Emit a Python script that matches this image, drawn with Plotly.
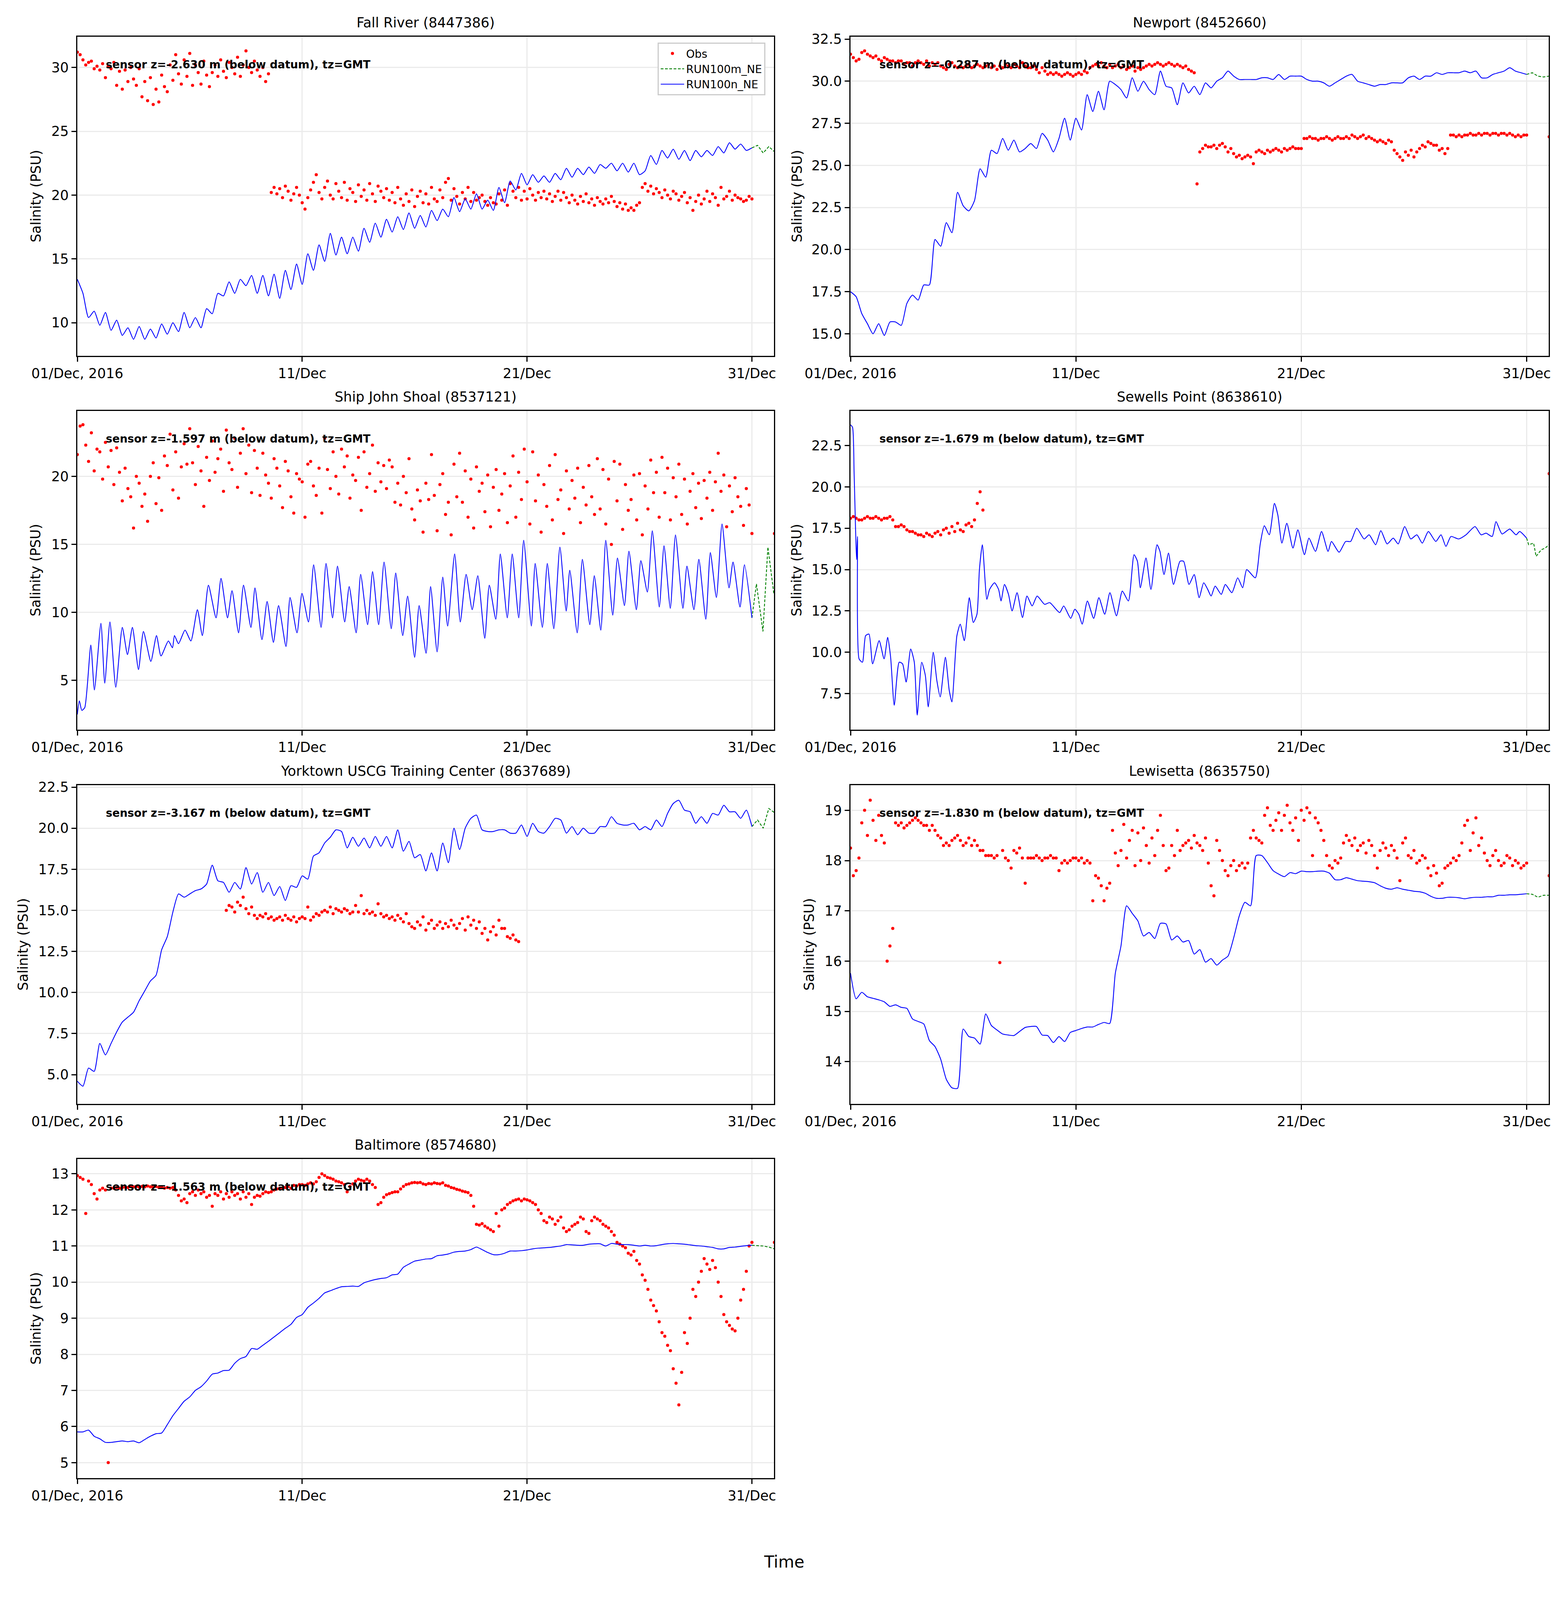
import pandas as pd
import plotly.graph_objects as go
from plotly.subplots import make_subplots

N = None
T0 = pd.Timestamp("2016-12-01")

station_names = ["Fall River (8447386)", "Newport (8452660)", "Ship John Shoal (8537121)",
                 "Sewells Point (8638610)", "Yorktown USCG Training Center (8637689)",
                 "Lewisetta (8635750)", "Baltimore (8574680)"]
sensor_depths = ["-2.630", "-0.287", "-1.597", "-1.679", "-3.167", "-1.830", "-1.563"]
tick_dates = ["2016-12-01", "2016-12-11", "2016-12-21", "2016-12-31"]
tick_labels = ["01/Dec, 2016", "11/Dec", "21/Dec", "31/Dec"]

# ---- observations, every 3 h from 01/Dec 00:00 (None = no data) ----
fr_obs = [
    31.2, 31.0, 30.6, 30.2, 30.4, 30.5, 29.9, 30.1,
    29.8, 30.3, 29.2, 30.1, 29.9, 30.4, 28.6, 29.7,
    28.3, 29.8, 28.9, 30.0, 29.1, 28.6, 29.9, 27.7,
    28.9, 27.4, 29.2, 27.1, 28.3, 27.3, 29.4, 28.5,
    28.1, 30.2, 29.0, 31.0, 29.5, 28.7, 30.6, 29.3,
    31.1, 28.6, 30.2, 29.6, 28.7, 30.5, 29.4, 28.5,
    29.6, 30.2, 29.3, 30.6, 29.7, 29.2, 30.4, 30.0,
    29.5, 30.8, 29.3, 30.2, 31.3, 30.0, 29.6, 30.5,
    29.8, 29.3, 30.0, 28.9, 29.5, 20.2, 20.6, 20.1,
    20.5, 19.8, 20.7, 20.3, 19.6, 20.1, 20.6, 20.0,
    19.4, 18.9, 19.8, 20.4, 21.0, 21.6, 20.2, 19.7,
    20.6, 21.1, 20.0, 19.7, 20.9, 20.3, 19.8, 21.0,
    19.6, 20.5, 20.2, 19.5, 20.8, 19.9, 20.4, 19.6,
    20.9, 20.1, 19.5, 20.7, 20.3, 19.8, 20.5, 19.6,
    20.2, 19.4, 20.6, 19.7, 19.2, 20.1, 19.5, 20.4,
    19.1, 19.9, 20.3, 19.4, 20.1, 19.3, 20.6, 19.7,
    19.5, 20.4, 19.8, 21.0, 21.3, 19.6, 20.5, 19.9,
    19.3, 20.2, 19.7, 20.6, 19.5, 20.2, 19.6, 19.8,
    20.0, 19.5, 19.2, 19.8, 19.4, 19.3, 20.1, 19.6,
    20.4, 19.2, 20.9, 20.3, 19.8, 20.6, 19.6, 20.3,
    19.7, 20.5, 20.0, 19.6, 20.2, 19.8, 20.3, 19.7,
    20.1, 19.5, 19.9, 20.3, 19.6, 20.2, 19.8, 19.4,
    20.0, 19.6, 19.3, 19.9, 19.5, 20.1, 19.4, 19.7,
    19.2, 19.8, 19.5, 19.3, 19.7, 19.4, 19.9, 19.5,
    19.1, 19.4, 18.9, 19.3, 18.8, 19.0, 18.8, 19.2,
    19.4, 20.6, 20.9, 20.3, 20.7, 20.1, 20.5, 20.2,
    19.8, 20.4, 20.0, 19.7, 20.3, 20.1, 19.6, 19.9,
    20.2, 19.4, 19.8, 18.8, 19.5, 20.0, 19.3, 19.7,
    20.3, 19.5, 20.1, 19.8, 19.2, 20.6, 19.7, 19.9,
    20.3, 19.6, 20.0, 19.8, 19.7, 19.5, 19.6, 19.9,
    19.7,
]
np_obs = [
    31.6, 31.4, 31.2, 31.3, 31.7, 31.8, 31.6, 31.5,
    31.4, 31.5, 31.3, 31.2, 31.4, 31.3, 31.2, 31.2,
    31.1, 31.2, 31.2, 31.0, 31.1, 31.1, 30.9, 31.1,
    31.2, 31.1, 31.0, 31.2, 30.9, 31.1, 31.0, 31.1,
    30.9, 30.8, 30.7, 31.0, 31.1, 30.9, 30.8, 30.9,
    30.8, 30.9, 31.0, 30.8, 30.9, 31.0, 30.9, 30.8,
    30.9, 31.0, 30.8, 30.9, 30.7, 30.9, 30.8, 31.0,
    30.9, 30.8, 31.0, 30.9, 30.8, 31.1, 30.9, 30.8,
    30.8, 30.9, 30.7, 30.5, 30.8, 30.6, 30.4, 30.5,
    30.4, 30.5, 30.4, 30.3, 30.4, 30.5, 30.4, 30.3,
    30.4, 30.5, 30.4, 30.6, 30.5, 30.8, 30.9, 31.0,
    30.9, 31.1, 30.9, 30.8, 31.0, 30.8, 30.9, 31.0,
    30.8, 30.9, 30.7, 30.8, 30.9, 30.6, 30.8, 30.7,
    30.8, 30.9, 31.0, 30.9, 31.0, 31.1, 31.0, 30.9,
    31.0, 31.1, 31.0, 30.9, 31.0, 30.9, 30.8, 30.9,
    30.7, 30.6, 30.5, 23.9, 25.8, 26.0, 26.2, 26.1,
    26.1, 26.2, 26.0, 26.2, 26.3, 26.1, 25.8, 26.0,
    25.7, 25.5, 25.6, 25.4, 25.5, 25.6, 25.5, 25.1,
    25.8, 25.9, 25.8, 25.7, 25.9, 25.8, 25.9, 26.0,
    25.9, 25.8, 26.0, 25.9, 26.0, 26.1, 26.0, 26.0,
    26.0, 26.6, 26.6, 26.7, 26.6, 26.6, 26.5, 26.6,
    26.6, 26.7, 26.6, 26.5, 26.6, 26.7, 26.6, 26.6,
    26.7, 26.6, 26.8, 26.7, 26.6, 26.7, 26.8, 26.6,
    26.7, 26.6, 26.5, 26.4, 26.5, 26.4, 26.3, 26.5,
    26.4, 25.9, 25.7, 25.5, 25.3, 25.8, 25.6, 25.9,
    25.5, 25.8, 26.0, 26.2, 26.1, 26.4, 26.3, 26.2,
    26.2, 25.9, 26.0, 25.7, 26.0, 26.8, 26.8, 26.7,
    26.8, 26.7, 26.8, 26.8, 26.9, 26.8, 26.8, 26.9,
    26.8, 26.9, 26.9, 26.8, 26.9, 26.9, 26.8, 26.9,
    26.9, 26.8, 26.9, 26.8, 26.7, 26.8, 26.7, 26.8,
    26.8, N, N, N, N, N, N, N,
    26.7,
]
sjs_obs = [
    21.6, 23.7, 23.8, 22.3, 21.1, 23.2, 20.4, 22.0,
    21.8, 19.8, 22.5, 20.7, 21.9, 19.4, 22.1, 20.3,
    18.2, 20.6, 19.1, 18.5, 16.2, 20.0, 19.5, 17.8,
    18.7, 16.7, 20.0, 21.0, 18.0, 19.9, 17.5, 21.5,
    20.8, 23.1, 19.0, 21.8, 18.4, 20.7, 22.4, 20.9,
    23.5, 21.0, 19.4, 22.2, 20.4, 17.8, 21.4, 19.7,
    22.6, 20.3, 21.3, 22.0, 18.9, 23.4, 21.0, 20.5,
    22.8, 19.2, 21.7, 23.5, 20.2, 22.3, 18.8, 21.9,
    20.6, 18.6, 21.7, 20.1, 19.5, 18.4, 21.3, 20.6,
    19.3, 17.7, 21.1, 20.4, 18.5, 17.3, 20.2, 19.8,
    19.6, 17.0, 20.9, 21.1, 19.3, 18.6, 20.6, 17.3,
    22.8, 20.5, 19.1, 21.8, 20.0, 18.7, 22.0, 20.7,
    21.5, 18.4, 20.1, 19.7, 21.4, 17.5, 21.8, 19.2,
    20.2, 22.3, 18.9, 21.0, 19.6, 20.8, 19.1, 21.2,
    20.7, 18.1, 19.5, 17.9, 20.0, 18.8, 21.3, 17.6,
    16.8, 19.0, 18.2, 15.9, 19.5, 18.3, 21.6, 18.6,
    16.0, 19.4, 20.2, 17.2, 18.1, 15.7, 20.9, 18.5,
    21.7, 18.1, 20.4, 17.0, 19.8, 16.2, 20.7, 18.9,
    19.5, 17.4, 20.1, 16.3, 19.2, 20.5, 17.5, 18.7,
    20.2, 16.6, 19.3, 21.5, 17.0, 20.3, 18.3, 22.0,
    19.6, 16.5, 21.8, 18.2, 20.1, 15.9, 19.4, 17.8,
    20.8, 16.8, 21.6, 18.3, 19.0, 15.8, 20.4, 17.6,
    19.7, 18.4, 20.6, 16.6, 19.2, 17.9, 20.8, 18.5,
    17.2, 21.3, 17.6, 20.5, 16.5, 19.8, 15.0, 21.1,
    18.2, 20.9, 16.1, 19.4, 17.5, 18.3, 20.1, 16.8,
    20.2, 15.7, 19.3, 17.6, 21.2, 18.8, 20.3, 17.0,
    21.4, 18.8, 20.6, 16.8, 19.9, 18.5, 20.9, 17.2,
    19.8, 16.5, 18.9, 20.2, 17.7, 19.5, 16.9, 19.7,
    18.4, 20.3, 17.5, 19.6, 21.7, 18.9, 20.1, 16.3,
    19.3, 17.4, 19.9, 18.5, 17.8, 16.4, 19.1, 17.9,
    15.8, N, N, N, N, N, N, N,
    15.8,
]
sp_obs = [
    18.1, 18.2, 18.1, 18.0, 18.0, 18.1, 18.2, 18.1,
    18.1, 18.2, 18.1, 18.0, 18.1, 18.1, 18.2, 18.0,
    17.6, 17.6, 17.7, 17.6, 17.4, 17.3, 17.3, 17.2,
    17.1, 17.1, 17.0, 17.2, 17.1, 17.0, 17.2, 17.3,
    17.1, 17.4, 17.5, 17.2, 17.6, 17.3, 17.8, 17.4,
    17.3, 17.7, 17.8, 17.6, 18.0, 19.0, 19.7, 18.6,
] + [N] * 200 + [20.8]
yt_obs = [N] * 53 + [
    15.0, 15.3, 15.2,
    14.9, 15.5, 15.3, 15.8, 15.1, 14.8, 15.2, 14.7,
    14.5, 14.7, 14.6, 14.8, 14.5, 14.6, 14.4, 14.5,
    14.6, 14.4, 14.7, 14.5, 14.4, 14.6, 14.3, 14.5,
    14.6, 14.5, 15.2, 14.4, 14.6, 14.8, 14.7, 14.9,
    15.0, 14.9, 15.2, 14.8, 15.1, 15.0, 14.9, 15.1,
    15.0, 14.8, 14.9, 15.3, 14.9, 15.9, 14.8, 15.0,
    14.8, 14.9, 14.7, 15.4, 14.8, 14.6, 14.7, 14.5,
    14.6, 14.4, 14.7, 14.5, 14.3, 14.8, 14.2, 14.0,
    13.9, 14.3, 14.1, 14.6, 13.8, 14.2, 14.4, 13.9,
    14.1, 14.3, 13.9, 14.2, 14.0, 14.4, 14.1, 13.9,
    14.2, 14.5, 13.8, 14.6, 14.1, 14.4, 13.9, 14.3,
    13.6, 13.9, 13.2, 13.7, 14.0, 13.5, 14.4, 13.9,
    13.9, 13.4, 13.3, 13.5, 13.2, 13.1,
]
lw_obs = [
    18.25, 17.7, 17.8, 18.05, 18.75, 19.0, 18.5, 19.2,
    18.8, 18.4, 18.9, 18.5, 18.35, 16.0, 16.3, 16.65,
    18.75, 18.7, 18.75, 18.65, 18.7, 18.75, 18.8, 18.85,
    18.8, 18.75, 18.7, 18.7, 18.6, 18.7, 18.6, 18.5,
    18.45, 18.3, 18.35, 18.3, 18.4, 18.45, 18.5, 18.4,
    18.3, 18.35, 18.45, 18.3, 18.4, 18.3, 18.2, 18.2,
    18.1, 18.1, 18.1, 18.05, 18.1, 15.97, 18.2, 18.05,
    18.0, 17.85, 18.2, 18.15, 18.25, 18.05, 17.55, 18.05,
    18.05, 18.05, 18.1, 18.05, 18.0, 18.05, 18.05, 18.1,
    18.05, 18.05, 17.8, 17.95, 18.0, 17.95, 18.0, 18.05,
    18.05, 18.0, 18.05, 17.95, 18.0, 17.95, 17.2, 17.7,
    17.65, 17.5, 17.2, 17.45, 17.55, 18.6, 18.15, 17.9,
    18.2, 18.72, 18.05, 18.4, 18.6, 17.9, 18.55, 18.0,
    18.65, 18.3, 17.95, 18.45, 18.1, 18.6, 18.9, 18.3,
    17.8, 17.85, 18.3, 18.1, 18.6, 18.2, 18.3, 18.35,
    18.4, 18.25, 18.5, 18.35, 18.3, 18.2, 18.45, 17.95,
    17.5, 17.3, 18.4, 18.2, 18.0, 17.8, 17.7, 17.9,
    18.0, 17.8, 17.9, 17.95, 17.85, 17.95, 18.45, 18.6,
    18.45, 18.4, 18.35, 18.9, 19.05, 18.7, 18.6, 18.8,
    18.95, 18.6, 18.9, 19.1, 18.75, 18.6, 18.85, 18.4,
    19.0, 18.8, 19.05, 18.95, 18.1, 18.85, 18.75, 18.6,
    18.4, 18.1, 17.9, 17.85, 18.0, 17.95, 18.05, 18.35,
    18.5, 18.4, 18.3, 18.45, 18.2, 18.3, 18.35, 18.15,
    18.4, 18.3, 18.1, 17.85, 18.2, 18.35, 18.25, 18.1,
    18.3, 18.2, 18.05, 17.6, 18.35, 18.45, 18.1, 18.05,
    18.2, 17.95, 18.0, 18.1, 18.05, 17.85, 17.7, 17.9,
    17.75, 17.5, 17.55, 17.85, 17.9, 17.95, 18.05, 18.0,
    18.1, 18.35, 18.7, 18.8, 18.2, 18.55, 18.85, 18.3,
    18.45, 18.15, 18.0, 17.9, 18.1, 18.2, 18.0, 17.9,
    17.95, 18.1, 18.05, 17.9, 18.0, 17.95, 17.85, 17.9,
    17.95, N, N, N, N, N, N, N,
    17.7,
]
bt_obs = [
    12.95, 12.9, 12.85, 11.9, 12.8, 12.7, 12.45, 12.3,
    12.55, 12.6, 12.55, 5.0, 12.6, 12.6, 12.62, 12.6,
    12.62, 12.63, 12.62, 12.65, 12.64, 12.65, 12.63, 12.65,
    12.64, 12.66, 12.64, 12.63, 12.65, 12.62, 12.64, 12.6,
    12.62, 12.6, 12.62, 12.55, 12.4, 12.25, 12.3, 12.2,
    12.45, 12.5, 12.4, 12.55, 12.45, 12.5, 12.35, 12.4,
    12.1, 12.45, 12.4, 12.5, 12.3, 12.45, 12.35, 12.5,
    12.4, 12.45, 12.3, 12.5, 12.35, 12.45, 12.15, 12.35,
    12.4, 12.38, 12.45, 12.5, 12.48, 12.5, 12.55, 12.58,
    12.6, 12.6, 12.62, 12.65, 12.6, 12.68, 12.66, 12.7,
    12.7, 12.68, 12.72, 12.75, 12.72, 12.78, 12.9, 13.0,
    12.95, 12.9, 12.88, 12.85, 12.8, 12.78, 12.75, 12.7,
    12.5, 12.65, 12.72, 12.8, 12.85, 12.82, 12.8, 12.85,
    12.8, 12.7, 12.62, 12.15, 12.2, 12.35, 12.42, 12.45,
    12.48, 12.5, 12.5, 12.58, 12.65, 12.7, 12.72, 12.75,
    12.76, 12.75, 12.76, 12.72, 12.7, 12.73, 12.72, 12.75,
    12.73, 12.72, 12.75, 12.68, 12.66, 12.62, 12.6, 12.57,
    12.55, 12.52, 12.5, 12.48, 12.4, 12.1, 11.6, 11.58,
    11.62, 11.55, 11.5, 11.45, 11.4, 11.9, 11.55, 12.0,
    12.05, 12.15, 12.2, 12.25, 12.28, 12.3, 12.25, 12.3,
    12.28, 12.25, 12.2, 12.15, 12.0, 11.9, 11.7, 11.65,
    11.8, 11.75, 11.6, 11.7, 11.8, 11.5, 11.4, 11.45,
    11.55, 11.6, 11.65, 11.8, 11.75, 11.4, 11.35, 11.7,
    11.8, 11.75, 11.7, 11.6, 11.55, 11.5, 11.4, 11.3,
    11.1, 11.05, 11.0, 10.95, 10.8, 10.75, 10.85, 10.6,
    10.5, 10.2, 10.05, 9.8, 9.5, 9.35, 9.2, 8.9,
    8.6, 8.5, 8.25, 8.1, 7.6, 7.2, 6.6, 7.5,
    8.6, 8.3, 9.0, 9.8, 9.6, 10.0, 10.3, 10.65,
    10.5, 10.35, 10.6, 10.4, 10.0, 9.6, 9.1, 8.9,
    8.8, 8.7, 8.65, 9.0, 9.5, 9.8, 10.3, 11.0,
    11.1, N, N, N, N, N, N, N,
    11.1,
]

# ---- model RUN100n_NE, every 6 h from 01/Dec 00:00 to 31/Dec 00:00 ----
fr_mod = [
    13.4, 12.3, 10.4, 10.9, 9.8, 10.8, 9.4, 10.2, 9.0, 9.6,
    8.7, 9.7, 8.7, 9.5, 8.8, 9.9, 9.1, 10.0, 9.3, 10.8,
    9.6, 10.4, 9.6, 11.1, 10.7, 12.3, 12.1, 13.2, 12.3, 13.4,
    12.9, 13.7, 12.3, 13.7, 12.1, 13.8, 11.9, 14.1, 12.6, 14.6,
    13.0, 15.4, 14.1, 16.1, 14.8, 17.0, 15.3, 16.7, 15.4, 16.7,
    15.6, 17.4, 16.3, 17.8, 16.7, 18.1, 17.1, 18.3, 17.3, 18.6,
    17.4, 18.4, 17.5, 18.8, 18.0, 18.9, 18.3, 19.8, 18.7, 19.7,
    18.9, 20.1, 18.9, 19.6, 18.8, 20.6, 19.4, 21.1, 20.4, 21.7,
    20.8, 21.6, 21.0, 21.5, 21.0, 21.7, 21.2, 22.1, 21.4, 22.1,
    21.6, 22.2, 21.7, 22.4, 22.1, 22.5, 21.9, 22.5, 21.8, 22.5,
    21.6, 21.9, 23.1, 22.4, 23.5, 22.9, 23.6, 22.8, 23.5, 22.7,
    23.5, 23.0, 23.5, 23.1, 23.8, 23.3, 24.1, 23.6, 24.0, 23.5,
    23.7,
]
np_mod = [
    17.5, 17.2, 16.2, 15.6, 15.0, 15.6, 14.9, 15.7, 15.7, 15.5,
    16.8, 17.3, 17.0, 17.9, 17.9, 20.6, 20.2, 21.6, 21.0, 23.4,
    22.6, 22.3, 22.9, 24.8, 24.3, 25.9, 25.7, 26.6, 25.9, 26.5,
    25.8, 26.0, 26.3, 26.0, 26.9, 26.5, 25.8, 26.6, 27.8, 26.5,
    27.8, 27.1, 29.2, 28.2, 29.4, 28.3, 30.0, 29.8, 29.5, 29.0,
    30.2, 29.4, 30.0, 29.5, 29.2, 30.6, 29.7, 29.6, 28.6, 29.9,
    29.3, 29.7, 29.2, 29.9, 29.6, 30.0, 30.2, 30.6, 30.3, 30.1,
    30.1, 30.1, 30.1, 30.2, 30.2, 30.1, 30.4, 30.1, 30.3, 30.3,
    30.3, 30.1, 30.0, 30.0, 29.9, 29.7, 29.9, 30.1, 30.3, 30.4,
    30.0, 29.9, 29.8, 29.7, 29.8, 29.8, 29.9, 29.9, 29.9, 30.2,
    30.3, 30.1, 30.3, 30.3, 30.5, 30.4, 30.5, 30.5, 30.5, 30.6,
    30.5, 30.6, 30.2, 30.2, 30.4, 30.5, 30.6, 30.8, 30.6, 30.5,
    30.4,
]
yt_mod = [
    4.6, 4.3, 5.4, 5.2, 6.9, 6.2, 6.9, 7.6, 8.2, 8.5,
    8.8, 9.5, 10.1, 10.7, 11.05, 12.6, 13.4, 14.9, 16.0, 15.8,
    16.0, 16.2, 16.3, 16.6, 17.75, 16.8, 16.7, 16.1, 16.7, 16.3,
    17.6, 16.6, 17.3, 16.1, 16.7, 15.9, 16.45, 15.6, 16.5, 16.4,
    17.1, 16.9, 18.3, 18.5, 19.1, 19.45, 19.9, 19.8, 18.8, 19.45,
    18.9, 19.4, 18.8, 19.5, 18.9, 19.5, 18.8, 19.9, 18.6, 19.2,
    18.2, 18.4, 17.4, 18.5, 17.4, 19.1, 17.9, 20.0, 18.7, 20.0,
    20.6, 20.8, 19.9, 19.8, 19.8, 19.9, 19.9, 19.7, 19.7, 20.2,
    19.5, 20.3, 19.8, 19.7, 20.1, 20.6, 20.5, 19.7, 20.1, 19.6,
    20.0, 19.7, 19.7, 20.1, 20.1, 20.7, 20.3, 20.2, 20.2, 20.3,
    19.9, 20.1, 19.9, 20.5, 20.1, 20.9, 21.5, 21.7, 21.1, 21.0,
    20.3, 20.7, 20.3, 20.9, 20.8, 21.4, 21.0, 21.0, 20.6, 21.1,
    20.1,
]
lw_mod = [
    15.76, 15.25, 15.38, 15.29, 15.26, 15.23, 15.19, 15.1, 15.13, 15.08,
    15.06, 14.85, 14.8, 14.75, 14.42, 14.3, 14.05, 13.65, 13.48, 13.47,
    14.65, 14.5, 14.47, 14.35, 14.95, 14.72, 14.63, 14.55, 14.53, 14.52,
    14.6, 14.68, 14.7, 14.7, 14.53, 14.52, 14.38, 14.5, 14.4, 14.58,
    14.62, 14.66, 14.69, 14.69, 14.74, 14.78, 14.76, 15.76, 16.3, 17.1,
    16.95, 16.8, 16.5, 16.57, 16.45, 16.75, 16.74, 16.42, 16.5, 16.38,
    16.41, 16.14, 16.23, 15.98, 16.05, 15.92, 16.02, 16.1, 16.46, 16.9,
    17.17, 17.1, 18.1, 18.1, 17.96, 17.8, 17.73, 17.68, 17.76, 17.74,
    17.79, 17.78, 17.78, 17.79, 17.79, 17.75, 17.62, 17.62, 17.66, 17.63,
    17.6, 17.59, 17.58, 17.56, 17.5, 17.45, 17.43, 17.46, 17.43, 17.41,
    17.39, 17.38, 17.35, 17.29, 17.25, 17.25, 17.27, 17.27, 17.26, 17.24,
    17.26, 17.27, 17.27, 17.28, 17.28, 17.31, 17.31, 17.32, 17.32, 17.33,
    17.34,
]
bt_mod = [
    5.85, 5.85, 5.9, 5.73, 5.66, 5.56, 5.56, 5.58, 5.6, 5.58,
    5.6, 5.55, 5.64, 5.73, 5.8, 5.82, 6.05, 6.3, 6.5, 6.7,
    6.82, 7.0, 7.1, 7.26, 7.45, 7.48, 7.55, 7.56, 7.75, 7.88,
    7.94, 8.16, 8.14, 8.25, 8.36, 8.48, 8.6, 8.72, 8.83, 9.02,
    9.1, 9.3, 9.42, 9.55, 9.7, 9.76, 9.82, 9.87, 9.88, 9.89,
    9.88, 9.98, 10.03, 10.07, 10.1, 10.12, 10.2, 10.22, 10.41, 10.5,
    10.58, 10.61, 10.64, 10.65, 10.73, 10.75, 10.78, 10.83, 10.85, 10.86,
    10.9, 10.97, 10.9, 10.82, 10.76, 10.76, 10.8, 10.86, 10.86, 10.87,
    10.89, 10.92, 10.94, 10.95, 10.96, 10.98, 11.0, 11.04, 11.03, 11.02,
    11.02, 11.05, 11.06, 11.06, 11.0, 11.07, 11.05, 11.04, 11.04, 11.02,
    11.0, 11.02, 11.0, 11.01, 11.04, 11.06, 11.07, 11.06, 11.05, 11.03,
    11.01, 11.0, 10.98, 10.96, 10.92, 10.92, 10.96, 10.97, 10.99, 11.01,
    11.02,
]
# tidal stations: model read at turning points (day since 01/Dec 00:00)
sjs_mod_day = [
    0.00, 0.09, 0.20, 0.33, 0.60, 0.76, 1.05, 1.22, 1.45, 1.71,
    2.00, 2.23, 2.45, 2.72, 2.94, 3.27, 3.52, 3.72, 4.05, 4.23,
    4.32, 4.50, 4.79, 5.05, 5.34, 5.56, 5.83, 6.17, 6.39, 6.68,
    6.88, 7.17, 7.39, 7.72, 7.90, 8.21, 8.44, 8.72, 8.95, 9.28,
    9.46, 9.77, 9.99, 10.28, 10.51, 10.84, 11.06, 11.35, 11.57, 11.89,
    12.09, 12.40, 12.60, 12.91, 13.13, 13.40, 13.64, 13.96, 14.16, 14.47,
    14.69, 15.00, 15.20, 15.51, 15.71, 16.00, 16.25, 16.47, 16.78, 17.03,
    17.29, 17.56, 17.81, 18.12, 18.32, 18.61, 18.81, 19.12, 19.34, 19.63,
    19.85, 20.19, 20.36, 20.68, 20.90, 21.19, 21.46, 21.74, 21.90, 22.23,
    22.46, 22.79, 22.99, 23.28, 23.50, 23.81, 24.02, 24.33, 24.53, 24.86,
    25.06, 25.35, 25.57, 25.88, 26.09, 26.37, 26.60, 26.93, 27.11, 27.42,
    27.64, 27.95, 28.15, 28.42, 28.67, 28.98, 29.16, 29.47, 29.67, 30.00,
]
sjs_mod = [
    2.5, 3.5, 2.8, 3.0, 7.6, 4.3, 9.2, 4.8, 9.3, 4.5,
    8.9, 6.9, 8.9, 5.8, 8.6, 6.4, 8.3, 6.8, 7.9, 7.4,
    8.3, 7.7, 8.7, 7.9, 10.2, 8.3, 12.0, 9.6, 12.5, 9.6,
    11.6, 8.5, 12.0, 8.9, 11.8, 8.0, 10.8, 7.8, 10.5, 7.5,
    11.1, 8.5, 11.4, 9.3, 13.5, 8.9, 13.6, 9.6, 13.4, 9.3,
    11.9, 8.5, 12.8, 9.1, 13.0, 9.1, 13.7, 8.8, 12.9, 8.3,
    11.2, 6.7, 10.5, 7.0, 11.9, 7.1, 12.6, 9.0, 14.3, 9.3,
    12.8, 10.2, 12.7, 8.1, 12.0, 9.5, 14.3, 9.6, 14.3, 9.6,
    15.3, 9.0, 13.6, 8.9, 13.6, 8.8, 14.8, 10.1, 13.1, 8.5,
    13.9, 9.1, 12.7, 8.7, 15.3, 9.8, 14.0, 10.5, 14.5, 10.2,
    13.8, 11.5, 16.0, 10.4, 14.9, 10.3, 15.7, 10.3, 13.4, 10.2,
    13.9, 9.5, 14.4, 11.1, 16.5, 11.8, 13.7, 10.4, 13.5, 9.6,
]
sp_mod_day = [
    0.00, 0.09, 0.16, 0.27, 0.31, 0.38, 0.53, 0.67, 0.82, 0.98,
    1.27, 1.49, 1.65, 1.78, 1.94, 2.16, 2.31, 2.47, 2.67, 2.83,
    2.96, 3.16, 3.32, 3.45, 3.67, 3.83, 3.98, 4.21, 4.38, 4.50,
    4.72, 4.87, 5.05, 5.27, 5.45, 5.61, 5.72, 5.85, 6.05, 6.17,
    6.39, 6.57, 6.68, 6.83, 7.01, 7.17, 7.39, 7.63, 7.83, 8.06,
    8.28, 8.61, 8.84, 9.28, 9.46, 9.77, 9.95, 10.13, 10.28, 10.51,
    10.79, 11.02, 11.28, 11.51, 11.80, 12.06, 12.33, 12.58, 12.73, 12.86,
    13.11, 13.33, 13.60, 13.73, 13.91, 14.11, 14.33, 14.62, 14.78, 15.02,
    15.25, 15.47, 15.67, 15.85, 16.00, 16.18, 16.45, 16.63, 16.92, 17.18,
    17.40, 17.58, 17.96, 18.18, 18.36, 18.58, 18.81, 18.96, 19.14, 19.36,
    19.63, 19.85, 20.14, 20.34, 20.63, 20.90, 21.19, 21.34, 21.68, 21.97,
    22.19, 22.46, 22.79, 23.01, 23.30, 23.53, 23.81, 24.08, 24.30, 24.59,
    24.86, 25.13, 25.37, 25.64, 25.97, 26.20, 26.42, 26.64, 26.98, 27.31,
    27.71, 27.98, 28.20, 28.47, 28.64, 28.91, 29.25, 29.53, 29.69, 30.00,
]
sp_mod = [
    23.75, 23.6, 20.8, 15.6, 17.0, 9.6, 9.4, 11.0, 11.1, 9.3,
    10.7, 9.6, 10.9, 9.7, 6.8, 9.4, 9.3, 8.2, 10.2, 9.4,
    6.2, 9.4, 8.6, 6.7, 10.0, 8.3, 7.3, 9.7, 7.7, 7.0,
    11.0, 11.7, 10.7, 13.3, 11.8, 12.3, 15.0, 16.5, 13.2, 13.8,
    14.2, 13.8, 13.1, 14.1, 13.5, 12.5, 13.6, 12.1, 13.4, 12.8,
    13.4, 12.9, 13.0, 12.4, 12.8, 12.05, 12.6, 12.3, 11.7, 13.1,
    12.05, 13.3, 12.3, 13.6, 12.2, 13.7, 13.1, 15.9, 15.5, 13.9,
    15.7, 13.8, 16.5, 16.1, 14.7, 16.0, 14.1, 15.5, 15.5, 14.1,
    14.7, 13.3, 14.2, 13.8, 13.4, 14.0, 13.5, 14.1, 13.6, 14.5,
    13.9, 15.0, 14.5, 16.55, 17.65, 17.1, 19.0, 18.3, 16.6, 17.8,
    16.3, 17.4, 15.9, 16.9, 16.1, 17.3, 16.1, 16.7, 16.05, 16.7,
    16.7, 17.5, 16.85, 17.1, 16.5, 17.35, 16.55, 16.9, 16.55, 17.6,
    16.85, 17.1, 16.6, 17.3, 16.7, 17.1, 16.4, 17.0, 16.85, 17.1,
    17.6, 17.1, 17.2, 17.0, 17.9, 17.15, 17.45, 17.1, 17.3, 16.9,
]

# ---- model RUN100m_NE on the last day ----
fr_tail = [23.7, 23.9, 23.3, 23.8, 23.4]
np_tail = [30.4, 30.5, 30.3, 30.25, 30.3]
yt_tail = [20.1, 20.5, 20.0, 21.2, 20.95]
lw_tail = [17.34, 17.33, 17.27, 17.31, 17.31]
bt_tail = [11.02, 11.01, 11.0, 10.97, 10.92]
sjs_tail_day = [30.0, 30.2, 30.49, 30.71, 30.98]
sjs_tail = [9.6, 12.1, 8.6, 14.8, 11.3]
sp_tail_day = [30.0, 30.09, 30.31, 30.42, 30.65, 30.83, 30.98]
sp_tail = [16.9, 16.5, 16.6, 15.8, 16.2, 16.3, 16.5]


def at_days(d):
    return T0 + pd.to_timedelta(d, unit="D")


obs_t = pd.date_range(T0, periods=249, freq="3h")
grid_t = pd.date_range(T0, periods=121, freq="6h")
tail_t = pd.date_range("2016-12-31", periods=5, freq="6h")

panels = [
    dict(obs=fr_obs, mt=grid_t, mv=fr_mod, tt=tail_t, tv=fr_tail,
         yr=[7.40, 32.41], dtick=5, fmt="d", ylab_x=83),
    dict(obs=np_obs, mt=grid_t, mv=np_mod, tt=tail_t, tv=np_tail,
         yr=[13.69, 32.64], dtick=2.5, fmt=".1f", ylab_x=2032),
    dict(obs=sjs_obs, mt=at_days(sjs_mod_day), mv=sjs_mod, tt=at_days(sjs_tail_day), tv=sjs_tail,
         yr=[1.38, 24.81], dtick=5, fmt="d", ylab_x=83),
    dict(obs=sp_obs, mt=at_days(sp_mod_day), mv=sp_mod, tt=at_days(sp_tail_day), tv=sp_tail,
         yr=[5.32, 24.59], dtick=2.5, fmt=".1f", ylab_x=2032),
    dict(obs=yt_obs, mt=grid_t, mv=yt_mod, tt=tail_t, tv=yt_tail,
         yr=[3.22, 22.62], dtick=2.5, fmt=".1f", ylab_x=51),
    dict(obs=lw_obs, mt=grid_t, mv=lw_mod, tt=tail_t, tv=lw_tail,
         yr=[13.16, 19.50], dtick=1, fmt="d", ylab_x=2064),
    dict(obs=bt_obs, mt=grid_t, mv=bt_mod, tt=tail_t, tv=bt_tail,
         yr=[4.57, 13.41], dtick=1, fmt="d", ylab_x=83),
]

W, H = 4000, 5000
col_dom = [[190 / W, 1974 / W], [2170 / W, 3958 / W]]
row_px = [(86, 903), (1044, 1860), (2002, 2818), (2959, 3776)]
row_dom = [[1 - b / H, 1 - t / H] for t, b in row_px]

fig = make_subplots(rows=4, cols=2, specs=[[{}, {}], [{}, {}], [{}, {}], [{}, None]])

FONT = "DejaVu Sans"
axis_common = dict(
    automargin=False,
    showgrid=True, gridcolor="#ebebeb", gridwidth=3,
    showline=True, linecolor="black", linewidth=3, mirror=True,
    ticks="outside", ticklen=12, tickwidth=3, tickcolor="black",
    tickfont=dict(family=FONT, size=35, color="black"),
    zeroline=False,
)

annotations = []
for i, p in enumerate(panels):
    row, col = i // 2 + 1, i % 2 + 1
    first = i == 0
    obs = (list(p["obs"]) + [None] * 249)[:249]
    fig.add_trace(go.Scatter(
        x=obs_t, y=obs, mode="markers", name="Obs", showlegend=first,
        marker=dict(color="red", size=8, line=dict(width=0)),
    ), row=row, col=col)
    fig.add_trace(go.Scatter(
        x=p["tt"], y=p["tv"], mode="lines", name="RUN100m_NE", showlegend=first,
        line=dict(color="green", width=2.2, dash="7px,4px"),
    ), row=row, col=col)
    fig.add_trace(go.Scatter(
        x=p["mt"], y=p["mv"], mode="lines", name="RUN100n_NE", showlegend=first,
        line=dict(color="blue", width=2.2, shape="spline", smoothing=0.6),
    ), row=row, col=col)

    ax = "" if i == 0 else str(i + 1)
    fig.layout["xaxis" + ax].update(
        domain=col_dom[col - 1], type="date",
        range=[T0, at_days(30.98)],
        tickvals=pd.to_datetime(tick_dates), ticktext=tick_labels,
        **axis_common,
    )
    fig.layout["yaxis" + ax].update(
        domain=row_dom[row - 1], range=p["yr"], dtick=p["dtick"], tick0=0,
        tickformat=p["fmt"], **axis_common,
    )

    annotations.append(dict(
        text=station_names[i], xref="x" + ax + " domain", yref="y" + ax + " domain",
        x=0.5, y=1.0, xanchor="center", yanchor="bottom", yshift=14, showarrow=False,
        font=dict(family=FONT, size=35, color="black"),
    ))
    annotations.append(dict(
        text="<b>sensor z=%s m (below datum), tz=GMT</b>" % sensor_depths[i],
        xref="x" + ax + " domain", yref="y" + ax + " domain",
        x=0.04, y=0.912, xanchor="left", yanchor="middle", showarrow=False,
        font=dict(family=FONT, size=28, color="black"),
    ))
    annotations.append(dict(
        text="Salinity (PSU)", xref="paper", yref="y" + ax + " domain",
        x=p["ylab_x"] / W, y=0.5, xanchor="center", yanchor="middle",
        textangle=-90, showarrow=False,
        font=dict(family=FONT, size=35, color="black"),
    ))

# shared x label; kept inside the visible part of the page
annotations.append(dict(
    text="Time", xref="paper", yref="paper", x=0.5, y=1 - 3990 / H,
    xanchor="center", yanchor="middle", showarrow=False,
    font=dict(family=FONT, size=42, color="black"),
))

fig.update_layout(
    width=W, height=H,
    margin=dict(l=0, r=0, t=0, b=0, autoexpand=False),
    paper_bgcolor="white", plot_bgcolor="white",
    font=dict(family=FONT, size=35, color="black"),
    annotations=annotations,
    showlegend=True,
    legend=dict(
        x=1952 / W, xanchor="right", y=1 - 101 / H, yanchor="top",
        bgcolor="white", bordercolor="#cccccc", borderwidth=3,
        font=dict(family=FONT, size=28, color="black"),
        itemwidth=60, tracegroupgap=0,
    ),
)

fig.write_html("out.html")
